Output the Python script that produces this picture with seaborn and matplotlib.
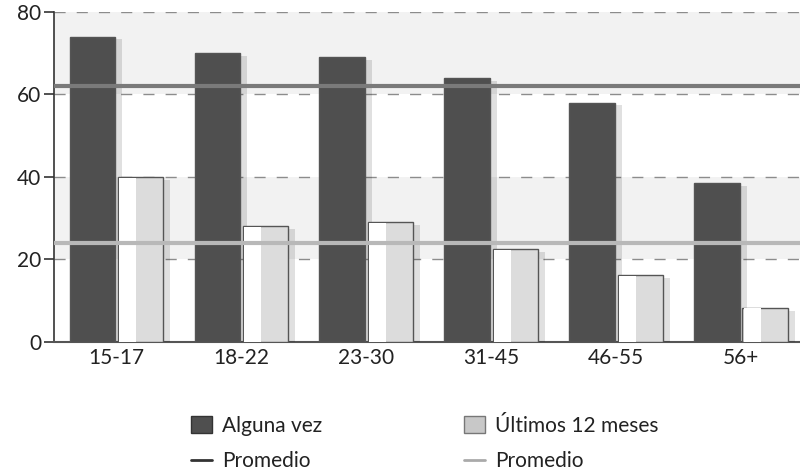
import pandas as pd
import seaborn as sns
import matplotlib.pyplot as plt
import matplotlib.patheffects as pe
from matplotlib.patches import Patch, Rectangle
from matplotlib.lines import Line2D

# datos
grupos = ['15-17', '18-22', '23-30', '31-45', '46-55', '56+']
alguna_vez = [74, 70, 69, 64, 58, 38.5]
ultimos_12 = [40, 28, 29, 22.5, 16.2, 8.2]
promedio_alguna = 62
promedio_ultimos = 24
series = ['Alguna vez', 'Últimos 12 meses']

df = pd.DataFrame({
	'grupo': grupos * 2,
	'serie': [series[0]] * len(grupos) + [series[1]] * len(grupos),
	'valor': alguna_vez + ultimos_12,
})

sns.set_style('white')
plt.rcParams['font.family'] = ['Lato', 'DejaVu Sans']

fig = plt.figure(figsize=(8, 4.76), dpi=100)
ax = fig.add_axes([0.0675, 0.2815, 0.9325, 0.6935])

# bandas de fondo alternas
for y0 in range(0, 80, 20):
	if (y0 // 20) % 2 == 1:
		ax.axhspan(y0, y0 + 20, color='#f2f2f2', zorder=0, lw=0)
for y in [20, 40, 60, 80]:
	ax.axhline(y, color='#8c8c8c', lw=1, ls=(0, (8, 8)), zorder=1)

sns.barplot(data=df, x='grupo', y='valor', hue='serie', order=grupos,
			palette=['#4f4f4f', '#dcdcdc'], width=0.77, gap=0.05,
			edgecolor='#555555', linewidth=1, legend=False, ax=ax, zorder=3)

sombra = [pe.SimplePatchShadow(offset=(5, -2), shadow_rgbFace='#000000', alpha=0.12), pe.Normal()]
for k, cont in enumerate(ax.containers):
	for bar in cont:
		bar.set_path_effects(sombra)
		if k == 1:
			# brillo blanco en la parte izquierda de las barras claras
			x0, w, h = bar.get_x(), bar.get_width(), bar.get_height()
			ax.add_patch(Rectangle((x0 + w * 0.03, 0), w * 0.38, h * 0.993,
								   color='white', lw=0, zorder=4))

ax.axhline(promedio_alguna, color='#7a7a7a', lw=3, zorder=5)
ax.axhline(promedio_ultimos, color='#b8b8b8', lw=3, zorder=5)

n = len(grupos)
ax.set_xlim(-0.5, 5.47)
ax.set_ylim(0, 80)
ax.set_yticks([0, 20, 40, 60, 80])
ax.set_xlabel('')
ax.set_ylabel('')
ax.set_xticks([i + 0.5 for i in range(n - 1)], minor=True)
ax.tick_params(axis='x', which='major', length=0, labelsize=15, labelcolor='#222222', pad=4)
ax.tick_params(axis='x', which='minor', direction='in', length=5, width=1, color='#555555')
ax.tick_params(axis='y', left=True, length=7, width=1.2, color='#333333',
			   labelsize=15, labelcolor='#222222', pad=2)
sns.despine(ax=ax, top=True, right=True)
ax.spines['left'].set_color('#333333')
ax.spines['bottom'].set_color('#555555')
ax.spines['left'].set_linewidth(1.2)
ax.spines['bottom'].set_linewidth(1.5)

handles = [
	Patch(facecolor='#4f4f4f', edgecolor='#333333'),
	Line2D([0], [0], color='#333333', lw=2),
	Patch(facecolor='#c8c8c8', edgecolor='#777777'),
	Line2D([0], [0], color='#aaaaaa', lw=2),
]
labels = [series[0], 'Promedio', series[1], 'Promedio']
fig.legend(handles, labels, loc='center', bbox_to_anchor=(0.531, 0.068), ncol=2,
		   frameon=False, fontsize=15, handlelength=1.0, handleheight=0.9,
		   handletextpad=0.5, columnspacing=6.8, labelspacing=0.75,
		   labelcolor='#222222')

fig.savefig('out.png', dpi=100)
